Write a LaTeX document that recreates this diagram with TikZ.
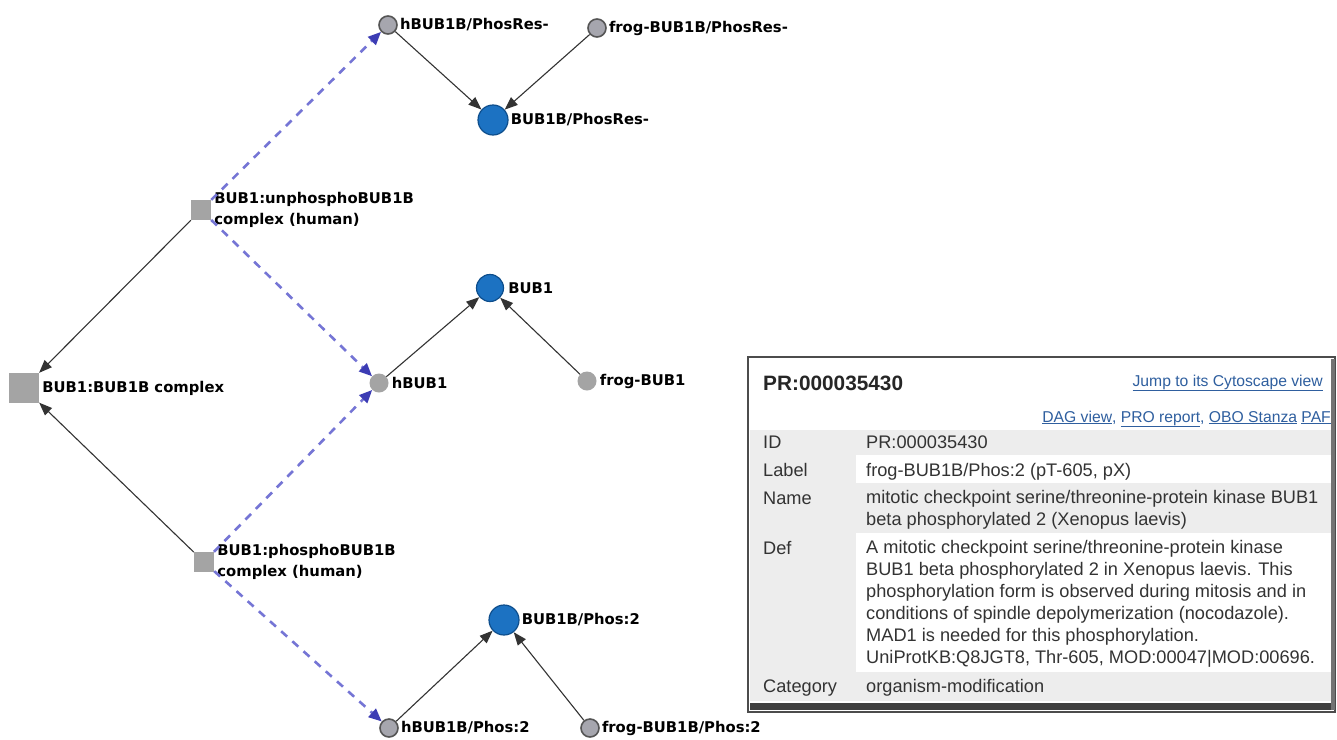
\documentclass[tikz,border=0pt]{standalone}
\usepackage{fontspec}
\setmainfont{Liberation Sans}
\newfontfamily\lblfont{DejaVu Sans}
\usetikzlibrary{arrows.meta}
\definecolor{nblue}{HTML}{1C72C2}
\definecolor{nblueb}{HTML}{0E4E8C}
\definecolor{ngray}{HTML}{A6A6AE}
\definecolor{ngrayb}{HTML}{555555}
\definecolor{sgray}{HTML}{A4A4A4}
\definecolor{dblue}{HTML}{7575D5}
\definecolor{dbluetip}{HTML}{3C3CB4}
\definecolor{rowgray}{HTML}{EDEDED}
\definecolor{linkc}{HTML}{2F5F9F}
\definecolor{txtc}{HTML}{333333}
\tikzset{
  bluenode/.style={circle,fill=nblue,draw=nblueb,line width=1.2pt,minimum size=30pt,inner sep=0pt},
  graynode/.style={circle,fill=ngray,draw=ngrayb,line width=1.6pt,minimum size=18pt,inner sep=0pt},
  lgraynode/.style={circle,fill=sgray,minimum size=19pt,inner sep=0pt},
  sqnode/.style={rectangle,fill=sgray,minimum size=#1,inner sep=0pt},
  lbltext/.style={font=\lblfont\bfseries\fontsize{14.8}{21}\selectfont,text=black,inner sep=1pt,align=left,anchor=west},
  solidarr/.style={draw=black!80,line width=1.1pt,-{Triangle[length=13pt,width=10pt]}},
  dasharr/.style={draw=dblue,line width=2.6pt,dash pattern=on 8pt off 7pt,-{Triangle[length=13pt,width=11pt,fill=dbluetip,color=dbluetip]}},
  ptxt/.style={font=\fontsize{18.2}{22}\selectfont,text=txtc,inner sep=0pt,anchor=base west,align=left},
  plink/.style={font=\fontsize{15.7}{18}\selectfont,text=linkc,inner sep=0pt,anchor=base east}
}
\begin{document}
\begin{tikzpicture}[x=1pt,y=-1pt]
\useasboundingbox (0,0) rectangle (1337,739);
\fill[white] (0,0) rectangle (1337,739);

% ---------- nodes ----------
\node[graynode] (hPR) at (388,25) {};
\node[graynode] (fPR) at (597,28) {};
\node[bluenode] (PR) at (493,120) {};
\node[sqnode=20pt] (unph) at (201,210) {};
\node[bluenode,minimum size=27pt] (bub1) at (490,288) {};
\node[sqnode=30pt] (cplx) at (24,388) {};
\node[lgraynode] (hbub1) at (379,383) {};
\node[lgraynode] (fbub1) at (587,381) {};
\node[sqnode=20pt] (phos) at (204,562) {};
\node[bluenode] (P2) at (504,620) {};
\node[graynode] (hP2) at (389,728) {};
\node[graynode] (fP2) at (590,728) {};

% ---------- labels ----------
\node[lbltext] (lhPR) at ([xshift=1pt]hPR.east) {hBUB1B/PhosRes-};
\node[lbltext] (lfPR) at ([xshift=1pt]fPR.east) {frog-BUB1B/PhosRes-};
\node[lbltext] (lPR) at ([xshift=1pt]PR.east) {BUB1B/PhosRes-};
\node[lbltext] (lunph) at ([xshift=2pt]unph.east) {BUB1:unphosphoBUB1B\\complex (human)};
\node[lbltext] (lbub1) at ([xshift=3pt]bub1.east) {BUB1};
\node[lbltext] (lcplx) at ([xshift=2pt]cplx.east) {BUB1:BUB1B complex};
\node[lbltext] (lhbub1) at ([xshift=2pt]hbub1.east) {hBUB1};
\node[lbltext] (lfbub1) at ([xshift=2pt]fbub1.east) {frog-BUB1};
\node[lbltext] (lphos) at ([xshift=2pt]phos.east) {BUB1:phosphoBUB1B\\complex (human)};
\node[lbltext] (lP2) at ([xshift=1pt]P2.east) {BUB1B/Phos:2};
\node[lbltext] (lhP2) at ([xshift=1pt]hP2.east) {hBUB1B/Phos:2};
\node[lbltext] (lfP2) at ([xshift=1pt]fP2.east) {frog-BUB1B/Phos:2};

% ---------- connectors ----------
\draw[solidarr] (hPR) -- (PR);
\draw[solidarr] (fPR) -- (PR);
\draw[solidarr] (unph) -- (cplx);
\draw[solidarr] (phos) -- (cplx);
\draw[solidarr] (hbub1) -- (bub1);
\draw[solidarr] (fbub1) -- (bub1);
\draw[solidarr] (hP2) -- (P2);
\draw[solidarr] (fP2) -- (P2);
\draw[dasharr] (unph) -- (hPR);
\draw[dasharr] (unph) -- (hbub1);
\draw[dasharr] (phos) -- (hbub1);
\draw[dasharr] (phos) -- (hP2);

% ---------- info panel ----------
\fill[white] (748,357) rectangle (1335,712);
\fill[rowgray] (750,430) rectangle (1331,455);
\fill[rowgray] (750,455) rectangle (856,483);
\fill[rowgray] (750,483) rectangle (1331,533);
\fill[rowgray] (750,533) rectangle (856,672);
\fill[rowgray] (750,672) rectangle (1331,701);
\draw[black!70,line width=1.2pt] (748,357) rectangle (1335,712);
\fill[black!75] (750,703) rectangle (1333,710);
\fill[black!55] (1331,359) rectangle (1335,710);

\node[font=\bfseries\fontsize{20.8}{24}\selectfont,text=black!85,inner sep=0pt,anchor=base west] (ptitle) at (763,390) {PR:000035430};
\node[plink] (jump) at (1323,386) {\underline{Jump to its Cytoscape view}};
\node[plink] (links) at (1331,422) {\underline{DAG view}, \underline{PRO report}, \underline{OBO Stanza} \underline{PAF}};

\node[ptxt] (kid) at (763,448) {ID};
\node[ptxt] (vid) at (866,448) {PR:000035430};
\node[ptxt] (klab) at (763,476) {Label};
\node[ptxt] (vlab) at (866,476) {frog-BUB1B/Phos:2 (pT-605, pX)};
\node[ptxt] (kname) at (763,504) {Name};
\node[ptxt,anchor=north west] (vname) at (866,490) {mitotic checkpoint serine/threonine-protein kinase BUB1\\beta phosphorylated 2 (Xenopus laevis)};
\node[ptxt] (kdef) at (763,554) {Def};
\node[ptxt,anchor=north west] (vdef) at (866,540) {A mitotic checkpoint serine/threonine-protein kinase\\BUB1 beta phosphorylated 2 in Xenopus laevis. This\\phosphorylation form is observed during mitosis and in\\conditions of spindle depolymerization (nocodazole).\\MAD1 is needed for this phosphorylation.\\UniProtKB:Q8JGT8, Thr-605, MOD:00047|MOD:00696.};
\node[ptxt] (kcat) at (763,692) {Category};
\node[ptxt] (vcat) at (866,692) {organism-modification};
\end{tikzpicture}
\end{document}
